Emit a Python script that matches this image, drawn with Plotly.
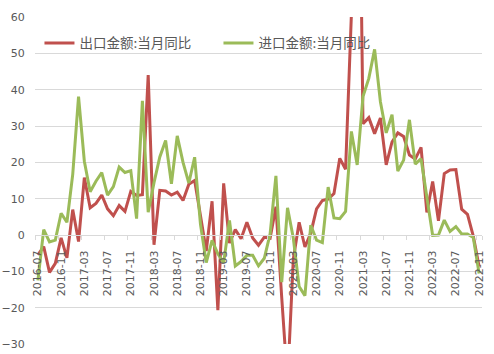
import plotly.graph_objects as go

months = [f"{y}-{m:02d}" for y in range(2016, 2023) for m in range(1, 13)]
months = months[months.index("2016-07"):months.index("2022-11") + 1]

export_yoy = [
    -5.5, -3.2, -10.3, -7.8, -0.8, -6.3,
    7.0, -1.8, 15.8, 7.5, 8.7, 11.0, 7.2, 5.3, 8.1, 6.5, 12.0, 10.9,
    11.1, 44.0, -2.7, 12.3, 12.1, 11.0, 11.8, 9.5, 14.0, 15.0, 5.4, -4.4,
    9.3, -20.7, 14.2, -2.2, 1.5, -1.0, 3.5, -0.8, -2.8, -0.6, -0.9, 7.8,
    -17.2, -40.6, -6.6, 3.5, -3.3, 0.5, 7.2, 9.5, 9.9, 11.4, 21.1, 18.1,
    60.6, 154.9, 30.6, 32.3, 27.9, 32.2, 19.3, 25.6, 28.1, 27.1, 22.0, 20.9,
    24.1, 6.2, 14.7, 3.9, 16.9, 17.9, 18.0, 7.1, 5.7, -0.3, -8.7,
]
import_yoy = [
    -12.5, 1.5, -1.9, -1.4, 6.0, 3.5,
    16.7, 38.1, 20.3, 11.9, 14.8, 17.2, 11.0, 13.3, 18.7, 17.2, 17.7, 4.5,
    36.9, 6.3, 14.4, 21.5, 26.0, 14.1, 27.3, 20.0, 14.3, 21.4, 3.0, -7.6,
    -1.5, -5.2, -7.6, 4.0, -8.5, -7.3, -5.6, -5.6, -8.5, -6.4, 0.3, 16.3,
    -13.0, 7.5, -0.9, -14.2, -16.7, 2.7, -1.4, -2.1, 13.2, 4.7, 4.5, 6.5,
    28.5, 19.3, 38.1, 43.1, 51.1, 36.7, 28.1, 33.1, 17.6, 20.6, 31.7, 19.5,
    21.0, 10.0, -0.1, 0.0, 4.1, 1.0, 2.3, 0.3, 0.3, -0.7, -10.6,
]
series_names = ["出口金额:当月同比", "进口金额:当月同比"]
tick_labels = months[::4]

idx = list(range(len(months)))
tick_idx = idx[::4]

fig = go.Figure()
fig.add_trace(go.Scatter(x=idx, y=export_yoy, mode="lines", name=series_names[0],
                         line=dict(color="#C0504D", width=3)))
fig.add_trace(go.Scatter(x=idx, y=import_yoy, mode="lines", name=series_names[1],
                         line=dict(color="#9BBB59", width=3)))

tickfont = dict(family="DejaVu Sans", size=11, color="#595959")
fig.update_layout(
    width=494, height=354,
    margin=dict(l=35, r=12, t=17, b=10, autoexpand=False),
    paper_bgcolor="white", plot_bgcolor="white",
    showlegend=True,
    legend=dict(orientation="h", x=0.01, y=0.92, xanchor="left", yanchor="middle",
                bgcolor="rgba(0,0,0,0)", entrywidth=134, entrywidthmode="pixels",
                font=dict(family="Noto Sans CJK SC", size=13.5, color="#595959")),
    xaxis=dict(
        range=[-0.5, len(months) - 0.5],
        anchor="free", position=1 / 3, automargin=False,
        tickvals=tick_idx, ticktext=tick_labels, tickangle=-90,
        ticks="outside", ticklen=10, tickcolor="rgba(0,0,0,0)",
        tickfont=tickfont,
        showgrid=False, zeroline=False,
        showline=True, linecolor="#d9d9d9", linewidth=1,
        minor=dict(tickvals=[i - 0.5 for i in tick_idx] + [len(months) - 0.5],
                   ticks="outside", ticklen=4, tickcolor="#d9d9d9", showgrid=False),
    ),
    yaxis=dict(
        range=[-30, 60], dtick=10, automargin=False,
        showgrid=True, gridcolor="#d9d9d9", gridwidth=1,
        zeroline=False, showline=False,
        ticks="outside", ticklen=7, tickcolor="rgba(0,0,0,0)",
        tickfont=tickfont,
    ),
)

fig.write_html("out.html")
